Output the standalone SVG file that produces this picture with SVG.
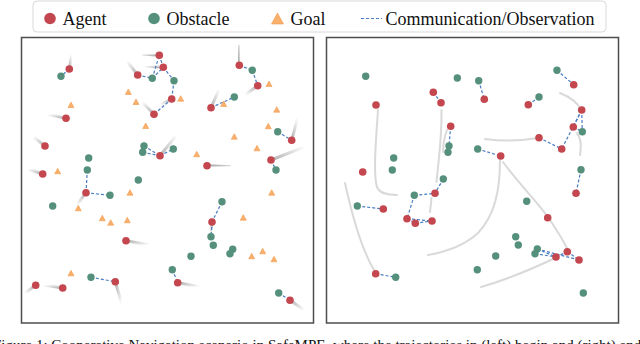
<svg xmlns="http://www.w3.org/2000/svg" width="640" height="344" viewBox="0 0 640 344">
<defs>
<style>
.ag{fill:#c4474f}
.ob{fill:#55907c}
.go{fill:#f9b06c;stroke:#f29a4c;stroke-width:0.6}
.lk{fill:none;stroke:#4a7dc2;stroke-width:1.2;stroke-dasharray:3 2}
.tr{fill:none;stroke-width:3;stroke-linecap:round}
.cv{fill:none;stroke:#d2d2d2;stroke-width:2;stroke-linecap:round;opacity:0.85}
.lg{font-family:"Liberation Serif","Times New Roman",serif;font-size:18px;fill:#111}
.cap{font-family:"Liberation Serif","Times New Roman",serif;font-size:15px;fill:#111}
.pn{fill:#fff;stroke:#4d4d4d;stroke-width:1.5}
</style>
<linearGradient id="TLBR" x1="0" y1="0" x2="1" y2="1"><stop offset="0" stop-color="#b0b0b0"/><stop offset="1" stop-color="#b0b0b0" stop-opacity="0"/></linearGradient>
<linearGradient id="BRTL" x1="1" y1="1" x2="0" y2="0"><stop offset="0" stop-color="#b0b0b0"/><stop offset="1" stop-color="#b0b0b0" stop-opacity="0"/></linearGradient>
<linearGradient id="TRBL" x1="1" y1="0" x2="0" y2="1"><stop offset="0" stop-color="#b0b0b0"/><stop offset="1" stop-color="#b0b0b0" stop-opacity="0"/></linearGradient>
<linearGradient id="BLTR" x1="0" y1="1" x2="1" y2="0"><stop offset="0" stop-color="#b0b0b0"/><stop offset="1" stop-color="#b0b0b0" stop-opacity="0"/></linearGradient>
</defs>
<rect width="640" height="344" fill="#fff"/>

<g id="legend">
<rect x="33" y="1" width="573" height="31" rx="4" fill="#fff" stroke="#d9d9d9"/>
<circle class="ag" cx="50" cy="18.5" r="5.8"/>
<text class="lg" x="62.5" y="25">Agent</text>
<circle class="ob" cx="154" cy="18.5" r="5.8"/>
<text class="lg" x="166.5" y="25">Obstacle</text>
<polygon class="go" points="271.5,24 283.5,24 277.5,13"/>
<text class="lg" x="290.5" y="25">Goal</text>
<line class="lk" x1="361" y1="18.5" x2="382" y2="18.5"/>
<text class="lg" x="385.5" y="25">Communication/Observation</text>
</g>

<rect id="panel-left" class="pn" x="21.5" y="37.5" width="292" height="285.5"/>
<rect id="panel-right" class="pn" x="326.5" y="37.5" width="292" height="285.5"/>

<g id="trails-left" class="trails">
<path class="tr" stroke="url(#BLTR)" d="M69.3,69 L71.7,56"/>
<path class="tr" stroke="url(#BRTL)" d="M159.3,55.3 L143.3,54"/>
<path class="tr" stroke="url(#BRTL)" d="M163.3,67.3 L146.7,65.7"/>
<path class="tr" stroke="url(#BRTL)" d="M137.7,75 L126.7,61"/>
<path class="tr" stroke="url(#TRBL)" d="M171.7,99 L160,105"/>
<path class="tr" stroke="url(#BRTL)" d="M154,114.3 L141.7,101.7"/>
<path class="tr" stroke="url(#BRTL)" d="M66,118.3 L48.3,114.3"/>
<path class="tr" stroke="url(#BRTL)" d="M45,146 L33.3,136.7"/>
<path class="tr" stroke="url(#BLTR)" d="M160,155.7 L176.7,135"/>
<path class="tr" stroke="url(#BRTL)" d="M42.7,174 L28.3,169"/>
<path class="tr" stroke="url(#TRBL)" d="M86,192.7 L76.7,205"/>
<path class="tr" stroke="url(#TLBR)" d="M126,240.7 L148.3,245"/>
<path class="tr" stroke="url(#TLBR)" d="M115.3,281.7 L121.7,303.3"/>
<path class="tr" stroke="url(#TRBL)" d="M35.7,285.3 L25,293.3"/>
<path class="tr" stroke="url(#BRTL)" d="M62.7,288 L45,285"/>
<path class="tr" stroke="url(#BLTR)" d="M239.3,65.3 L240,46"/>
<path class="tr" stroke="url(#TRBL)" d="M257.7,85.7 L245,95"/>
<path class="tr" stroke="url(#BLTR)" d="M211,107.7 L219.3,89.3"/>
<path class="tr" stroke="url(#BLTR)" d="M291.7,140.3 L297.7,118.3"/>
<path class="tr" stroke="url(#TLBR)" d="M207,165.7 L230,166.7"/>
<path class="tr" stroke="url(#BLTR)" d="M271,160 L305,146.7"/>
<path class="tr" stroke="url(#TRBL)" d="M212,222 L210,234"/>
<path class="tr" stroke="url(#TLBR)" d="M177.7,282.7 L198.3,286.7"/>
<path class="tr" stroke="url(#TLBR)" d="M290,300.3 L304,310"/>
</g>

<g id="trails-right" class="trails">
<path class="cv" d="M378,110 C376,140 373,175 377,187 C380,194 388,195 397,195"/>
<path class="cv" d="M441.5,110 C442,140 438,165 436.5,182"/>
<path class="cv" d="M447,130 C444,138 443,145 443,152"/>
<path class="cv" d="M431.5,198 C431,204 430.5,208 430,212"/>
<path class="cv" d="M560,93 C570,97 578,103 581,110"/>
<path class="cv" d="M577,133 C582,140 581,148 580,155"/>
<path class="cv" d="M537,138 C520,141 500,141 485,139"/>
<path class="cv" d="M500,160 C500,190 495,215 478,233 C465,245 445,252 428,255"/>
<path class="cv" d="M503,162 C520,185 540,205 550,220 C558,232 564,242 568,250"/>
<path class="cv" d="M555,258 C530,270 505,280 481,287"/>
<path class="cv" d="M345,183 C352,215 362,250 374,270"/>
</g>

<g id="connectors">
<line class="lk" x1="69.3" y1="69" x2="61" y2="76.3"/>
<line class="lk" x1="137.7" y1="75" x2="152.3" y2="78.3"/>
<line class="lk" x1="152.3" y1="78.3" x2="159.3" y2="55.3"/>
<line class="lk" x1="152.3" y1="78.3" x2="163.3" y2="67.3"/>
<line class="lk" x1="159.3" y1="55.3" x2="163.3" y2="67.3"/>
<line class="lk" x1="163.3" y1="67.3" x2="174" y2="80.7"/>
<line class="lk" x1="174" y1="80.7" x2="171.7" y2="99"/>
<line class="lk" x1="171.7" y1="99" x2="154" y2="114.3"/>
<line class="lk" x1="144" y1="146" x2="160" y2="155.7"/>
<line class="lk" x1="142.7" y1="152.3" x2="160" y2="155.7"/>
<line class="lk" x1="160" y1="155.7" x2="173.3" y2="149"/>
<line class="lk" x1="87.3" y1="170" x2="86" y2="192.7"/>
<line class="lk" x1="86" y1="192.7" x2="110" y2="195.3"/>
<line class="lk" x1="91" y1="277.3" x2="115.3" y2="281.7"/>
<line class="lk" x1="239.3" y1="65.3" x2="252.3" y2="70.3"/>
<line class="lk" x1="252.3" y1="70.3" x2="257.7" y2="85.7"/>
<line class="lk" x1="211" y1="107.7" x2="234.3" y2="97"/>
<line class="lk" x1="277.7" y1="131.7" x2="291.7" y2="140.3"/>
<line class="lk" x1="271" y1="160" x2="276" y2="170"/>
<line class="lk" x1="222" y1="201.7" x2="212" y2="222"/>
<line class="lk" x1="212" y1="222" x2="211" y2="236.7"/>
<line class="lk" x1="172.3" y1="269.7" x2="177.7" y2="282.7"/>
<line class="lk" x1="278.7" y1="293" x2="290" y2="300.3"/>
<line class="lk" x1="433.3" y1="92.3" x2="441" y2="102.7"/>
<line class="lk" x1="478.7" y1="80.7" x2="484.3" y2="99.3"/>
<line class="lk" x1="450.7" y1="126.3" x2="449" y2="146"/>
<line class="lk" x1="477.7" y1="149" x2="500.7" y2="156"/>
<line class="lk" x1="557" y1="70.3" x2="573.7" y2="84.7"/>
<line class="lk" x1="539" y1="97" x2="528.3" y2="104.7"/>
<line class="lk" x1="581.7" y1="110" x2="573.3" y2="127"/>
<line class="lk" x1="581.7" y1="110" x2="582.3" y2="131.7"/>
<line class="lk" x1="573.3" y1="127" x2="582.3" y2="131.7"/>
<line class="lk" x1="581.7" y1="110" x2="561.7" y2="149"/>
<line class="lk" x1="539" y1="137.7" x2="561.7" y2="149"/>
<line class="lk" x1="581" y1="169.7" x2="576" y2="193.3"/>
<line class="lk" x1="443.3" y1="179" x2="435" y2="193.3"/>
<line class="lk" x1="414.3" y1="195.3" x2="435" y2="193.3"/>
<line class="lk" x1="414.3" y1="195.3" x2="407" y2="218.7"/>
<line class="lk" x1="407" y1="218.7" x2="432" y2="221"/>
<line class="lk" x1="415.3" y1="223.3" x2="432" y2="221"/>
<line class="lk" x1="407" y1="218.7" x2="415.3" y2="223.3"/>
<line class="lk" x1="357.3" y1="206" x2="383.3" y2="209"/>
<line class="lk" x1="375.7" y1="273.7" x2="395.7" y2="277.3"/>
<line class="lk" x1="537.3" y1="249" x2="556" y2="257"/>
<line class="lk" x1="535" y1="253.7" x2="556" y2="257"/>
<line class="lk" x1="537.3" y1="249" x2="579" y2="260"/>
<line class="lk" x1="556" y1="257" x2="567.3" y2="251.7"/>
<line class="lk" x1="567.3" y1="251.7" x2="579" y2="260"/>
</g>

<g id="goals-left">
<polygon id="g1" class="go" points="125.3,94.5 131.3,94.5 128.3,89"/>
<polygon id="g2" class="go" points="133,104.5 139,104.5 136,99"/>
<polygon id="g3" class="go" points="68,107.5 74,107.5 71,102"/>
<polygon id="g4" class="go" points="142.7,128.5 148.7,128.5 145.7,123"/>
<polygon id="g5" class="go" points="54.7,173.8 60.7,173.8 57.7,168.3"/>
<polygon id="g6" class="go" points="127,195.2 133,195.2 130,189.7"/>
<polygon id="g7" class="go" points="75.3,210.8 81.3,210.8 78.3,205.3"/>
<polygon id="g8" class="go" points="99.3,220.8 105.3,220.8 102.3,215.3"/>
<polygon id="g9" class="go" points="107.7,225.2 113.7,225.2 110.7,219.7"/>
<polygon id="g10" class="go" points="124.3,222.8 130.3,222.8 127.3,217.3"/>
<polygon id="g11" class="go" points="68,275.8 74,275.8 71,270.3"/>
<polygon id="g12" class="go" points="266,86.5 272,86.5 269,81"/>
<polygon id="g13" class="go" points="220.7,106.5 226.7,106.5 223.7,101"/>
<polygon id="g14" class="go" points="177.7,101.2 183.7,101.2 180.7,95.7"/>
<polygon id="g15" class="go" points="273.7,112.2 279.7,112.2 276.7,106.7"/>
<polygon id="g16" class="go" points="265.3,128.8 271.3,128.8 268.3,123.3"/>
<polygon id="g17" class="go" points="231.3,139.2 237.3,139.2 234.3,133.7"/>
<polygon id="g18" class="go" points="193.7,156.8 199.7,156.8 196.7,151.3"/>
<polygon id="g19" class="go" points="254,150.8 260,150.8 257,145.3"/>
<polygon id="g20" class="go" points="268.7,195.2 274.7,195.2 271.7,189.7"/>
<polygon id="g21" class="go" points="240.3,220.2 246.3,220.2 243.3,214.7"/>
<polygon id="g22" class="go" points="248.7,258.8 254.7,258.8 251.7,253.3"/>
<polygon id="g23" class="go" points="259.7,253.8 265.7,253.8 262.7,248.3"/>
<polygon id="g24" class="go" points="271,261.8 277,261.8 274,256.3"/>
</g>

<g id="obstacles-left">
<circle id="o1" class="ob" cx="61" cy="76.3" r="3.7"/>
<circle id="o2" class="ob" cx="152.3" cy="78.3" r="3.7"/>
<circle id="o3" class="ob" cx="174" cy="80.7" r="3.7"/>
<circle id="o4" class="ob" cx="144" cy="146" r="3.7"/>
<circle id="o5" class="ob" cx="142.7" cy="152.3" r="3.7"/>
<circle id="o6" class="ob" cx="88.7" cy="158" r="3.7"/>
<circle id="o7" class="ob" cx="87.3" cy="170" r="3.7"/>
<circle id="o8" class="ob" cx="138.3" cy="180" r="3.7"/>
<circle id="o9" class="ob" cx="110" cy="195.3" r="3.7"/>
<circle id="o10" class="ob" cx="52.7" cy="206" r="3.7"/>
<circle id="o11" class="ob" cx="91" cy="277.3" r="3.7"/>
<circle id="o12" class="ob" cx="252.3" cy="70.3" r="3.7"/>
<circle id="o13" class="ob" cx="234.3" cy="97" r="3.7"/>
<circle id="o14" class="ob" cx="277.7" cy="131.7" r="3.7"/>
<circle id="o15" class="ob" cx="173.3" cy="149" r="3.7"/>
<circle id="o16" class="ob" cx="276" cy="170" r="3.7"/>
<circle id="o17" class="ob" cx="222" cy="201.7" r="3.7"/>
<circle id="o18" class="ob" cx="211" cy="236.7" r="3.7"/>
<circle id="o19" class="ob" cx="213.3" cy="245.3" r="3.7"/>
<circle id="o20" class="ob" cx="232.7" cy="249.3" r="3.7"/>
<circle id="o21" class="ob" cx="230" cy="253.7" r="3.7"/>
<circle id="o22" class="ob" cx="191" cy="256.3" r="3.7"/>
<circle id="o23" class="ob" cx="172.3" cy="269.7" r="3.7"/>
<circle id="o24" class="ob" cx="278.7" cy="293" r="3.7"/>
</g>

<g id="agents-left">
<circle id="a1" class="ag" cx="69.3" cy="69" r="3.8"/>
<circle id="a2" class="ag" cx="159.3" cy="55.3" r="3.8"/>
<circle id="a3" class="ag" cx="163.3" cy="67.3" r="3.8"/>
<circle id="a4" class="ag" cx="137.7" cy="75" r="3.8"/>
<circle id="a5" class="ag" cx="171.7" cy="99" r="3.8"/>
<circle id="a6" class="ag" cx="154" cy="114.3" r="3.8"/>
<circle id="a7" class="ag" cx="66" cy="118.3" r="3.8"/>
<circle id="a8" class="ag" cx="45" cy="146" r="3.8"/>
<circle id="a9" class="ag" cx="160" cy="155.7" r="3.8"/>
<circle id="a10" class="ag" cx="42.7" cy="174" r="3.8"/>
<circle id="a11" class="ag" cx="86" cy="192.7" r="3.8"/>
<circle id="a12" class="ag" cx="126" cy="240.7" r="3.8"/>
<circle id="a13" class="ag" cx="115.3" cy="281.7" r="3.8"/>
<circle id="a14" class="ag" cx="35.7" cy="285.3" r="3.8"/>
<circle id="a15" class="ag" cx="62.7" cy="288" r="3.8"/>
<circle id="a16" class="ag" cx="239.3" cy="65.3" r="3.8"/>
<circle id="a17" class="ag" cx="257.7" cy="85.7" r="3.8"/>
<circle id="a18" class="ag" cx="211" cy="107.7" r="3.8"/>
<circle id="a19" class="ag" cx="291.7" cy="140.3" r="3.8"/>
<circle id="a20" class="ag" cx="207" cy="165.7" r="3.8"/>
<circle id="a21" class="ag" cx="271" cy="160" r="3.8"/>
<circle id="a22" class="ag" cx="212" cy="222" r="3.8"/>
<circle id="a23" class="ag" cx="177.7" cy="282.7" r="3.8"/>
<circle id="a24" class="ag" cx="290" cy="300.3" r="3.8"/>
</g>

<g id="obstacles-right">
<circle id="p1" class="ob" cx="365.7" cy="76.3" r="3.7"/>
<circle id="p2" class="ob" cx="457.3" cy="78" r="3.7"/>
<circle id="p3" class="ob" cx="478.7" cy="80.7" r="3.7"/>
<circle id="p4" class="ob" cx="449" cy="146" r="3.7"/>
<circle id="p5" class="ob" cx="448" cy="152.3" r="3.7"/>
<circle id="p6" class="ob" cx="477.7" cy="149" r="3.7"/>
<circle id="p7" class="ob" cx="393.7" cy="158" r="3.7"/>
<circle id="p8" class="ob" cx="392.3" cy="170" r="3.7"/>
<circle id="p9" class="ob" cx="443.3" cy="179" r="3.7"/>
<circle id="p10" class="ob" cx="557" cy="70.3" r="3.7"/>
<circle id="p11" class="ob" cx="539" cy="97" r="3.7"/>
<circle id="p12" class="ob" cx="582.3" cy="131.7" r="3.7"/>
<circle id="p13" class="ob" cx="581" cy="169.7" r="3.7"/>
<circle id="p14" class="ob" cx="526.7" cy="201.3" r="3.7"/>
<circle id="p15" class="ob" cx="515.7" cy="236.7" r="3.7"/>
<circle id="p16" class="ob" cx="518.3" cy="245" r="3.7"/>
<circle id="p17" class="ob" cx="537.3" cy="249" r="3.7"/>
<circle id="p18" class="ob" cx="535" cy="253.7" r="3.7"/>
<circle id="p19" class="ob" cx="495.7" cy="256" r="3.7"/>
<circle id="p20" class="ob" cx="477.3" cy="269.7" r="3.7"/>
<circle id="p21" class="ob" cx="583.3" cy="293" r="3.7"/>
<circle id="p22" class="ob" cx="414.3" cy="195.3" r="3.7"/>
<circle id="p23" class="ob" cx="357.3" cy="206" r="3.7"/>
<circle id="p24" class="ob" cx="395.7" cy="277.3" r="3.7"/>
</g>

<g id="agents-right">
<circle id="b1" class="ag" cx="376" cy="105" r="3.8"/>
<circle id="b2" class="ag" cx="433.3" cy="92.3" r="3.8"/>
<circle id="b3" class="ag" cx="441" cy="102.7" r="3.8"/>
<circle id="b4" class="ag" cx="450.7" cy="126.3" r="3.8"/>
<circle id="b5" class="ag" cx="484.3" cy="99.3" r="3.8"/>
<circle id="b6" class="ag" cx="362.7" cy="172" r="3.8"/>
<circle id="b7" class="ag" cx="573.7" cy="84.7" r="3.8"/>
<circle id="b8" class="ag" cx="528.3" cy="104.7" r="3.8"/>
<circle id="b9" class="ag" cx="581.7" cy="110" r="3.8"/>
<circle id="b10" class="ag" cx="573.3" cy="127" r="3.8"/>
<circle id="b11" class="ag" cx="539" cy="137.7" r="3.8"/>
<circle id="b12" class="ag" cx="561.7" cy="149" r="3.8"/>
<circle id="b13" class="ag" cx="500.7" cy="156" r="3.8"/>
<circle id="b14" class="ag" cx="576" cy="193.3" r="3.8"/>
<circle id="b15" class="ag" cx="547.7" cy="217.7" r="3.8"/>
<circle id="b16" class="ag" cx="567.3" cy="251.7" r="3.8"/>
<circle id="b17" class="ag" cx="556" cy="257" r="3.8"/>
<circle id="b18" class="ag" cx="579" cy="260" r="3.8"/>
<circle id="b19" class="ag" cx="435" cy="193.3" r="3.8"/>
<circle id="b20" class="ag" cx="383.3" cy="209" r="3.8"/>
<circle id="b21" class="ag" cx="407" cy="218.7" r="3.8"/>
<circle id="b22" class="ag" cx="415.3" cy="223.3" r="3.8"/>
<circle id="b23" class="ag" cx="432" cy="221" r="3.8"/>
<circle id="b24" class="ag" cx="375.7" cy="273.7" r="3.8"/>
</g>

<text id="caption" class="cap" x="-7" y="349.5">Figure 1: Cooperative Navigation scenario in SafeMPE, where the trajectories in (left) begin and (right) end</text>
</svg>
